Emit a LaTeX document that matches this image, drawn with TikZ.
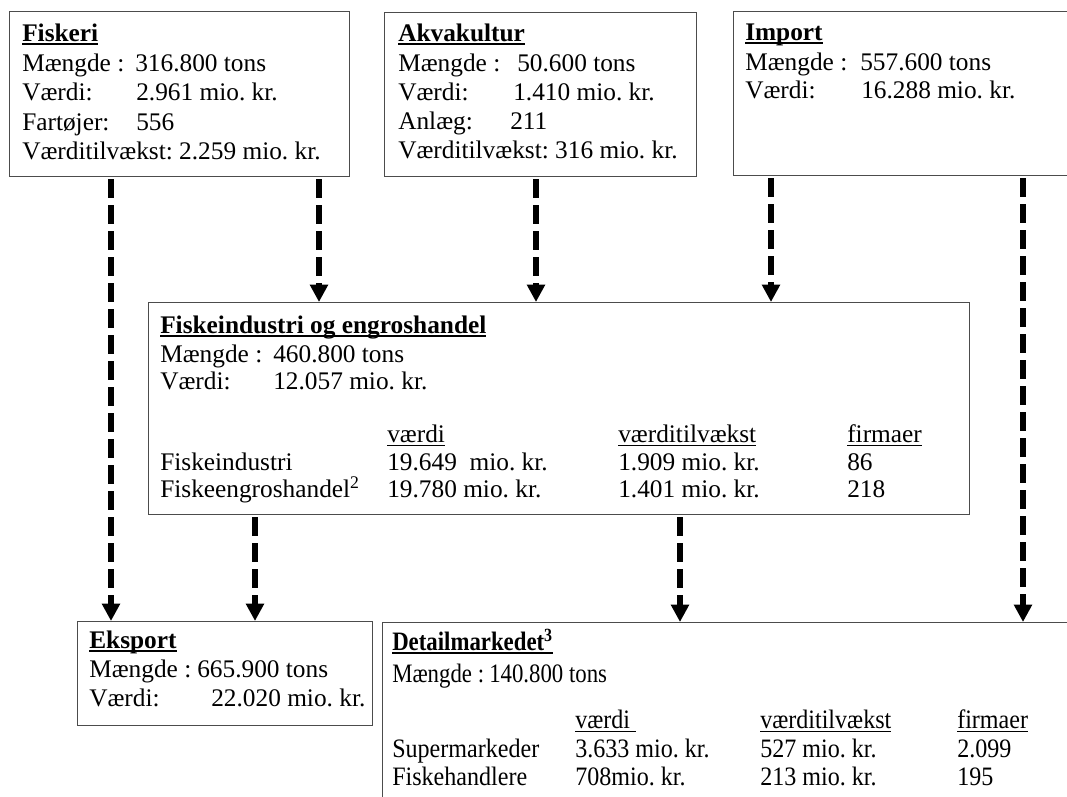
\documentclass[tikz,border=0pt]{standalone}
\usepackage{fontspec}
\usepackage{graphicx}
\setmainfont{Liberation Serif}
\usetikzlibrary{arrows.meta}
\frenchspacing
\newcommand\ulb[1]{\setbox0\hbox{#1}\rlap{\rule[-3.2pt]{\wd0}{1.7pt}}\box0}
\newcommand\ulr[1]{\setbox0\hbox{#1}\rlap{\rule[-3pt]{\wd0}{1pt}}\box0}
\newcommand\dsc[1]{\scalebox{0.95}[1.05]{#1}}
\newcommand\dsm[1]{\scalebox{0.9}[1.05]{#1}}
\begin{document}
\begin{tikzpicture}[x=0.75pt,y=-0.75pt,
  box/.style={draw=black!70, line width=0.8pt, anchor=north west, inner sep=0pt},
  txt/.style={anchor=base west, inner sep=0pt, font=\fontsize{19}{22}\selectfont},
  flow/.style={line width=4pt, dash pattern=on 14pt off 5.5pt, shorten <=1.5pt,
    -{Triangle[width=13pt,length=13pt]}}]
\useasboundingbox (0,0) rectangle (1067,796);
\clip (0,0) rectangle (1067,796);
% boxes
\node[box, minimum width=340*0.75pt, minimum height=165*0.75pt] (fiskeri) at (9,11) {};
\node[box, minimum width=312*0.75pt, minimum height=164*0.75pt] (akva) at (384,12) {};
\node[box, minimum width=350*0.75pt, minimum height=164*0.75pt] (import) at (733,11) {};
\node[box, minimum width=821*0.75pt, minimum height=212*0.75pt] (fiskind) at (148,302) {};
\node[box, minimum width=295*0.75pt, minimum height=104*0.75pt] (eksport) at (77,621) {};
\node[box, minimum width=720*0.75pt, minimum height=200*0.75pt] (detail) at (382,622) {};
% Fiskeri
\node[txt] (f0) at (22,41) {\textbf{\ulb{Fiskeri}}};
\node[txt] (f1) at (22,71) {Mængde :};
\node[txt] (f1v) at (135,71) {316.800 tons};
\node[txt] (f2) at (22,100) {Værdi:};
\node[txt] (f2v) at (136,100) {2.961 mio. kr.};
\node[txt] (f3) at (22,130) {Fartøjer:};
\node[txt] (f3v) at (136,130) {556};
\node[txt] (f4) at (22,159) {Værditilvækst: 2.259 mio. kr.};
% Akvakultur
\node[txt] (a0) at (398,41) {\textbf{\ulb{Akvakultur}}};
\node[txt] (a1) at (398,71) {Mængde :};
\node[txt] (a1v) at (517,71) {50.600 tons};
\node[txt] (a2) at (398,100) {Værdi:};
\node[txt] (a2v) at (513,100) {1.410 mio. kr.};
\node[txt] (a3) at (398,129) {Anlæg:};
\node[txt] (a3v) at (510,129) {211};
\node[txt] (a4) at (398,158) {Værditilvækst: 316 mio. kr.};
% Import
\node[txt] (i0) at (745,40) {\textbf{\ulb{Import}}};
\node[txt] (i1) at (745,70) {Mængde :};
\node[txt] (i1v) at (860,70) {557.600 tons};
\node[txt] (i2) at (745,98) {Værdi:};
\node[txt] (i2v) at (861,98) {16.288 mio. kr.};
% Fiskeindustri og engroshandel
\node[txt] (k0) at (160,333) {\textbf{\ulb{Fiskeindustri og engroshandel}}};
\node[txt] (k1) at (160,362) {Mængde :};
\node[txt] (k1v) at (273,362) {460.800 tons};
\node[txt] (k2) at (160,389) {Værdi:};
\node[txt] (k2v) at (273,389) {12.057 mio. kr.};
\node[txt] (kh1) at (387,442) {\ulr{værdi}};
\node[txt] (kh2) at (618,442) {\ulr{værditilvækst}};
\node[txt] (kh3) at (847,442) {\ulr{firmaer}};
\node[txt] (kr1) at (160,470) {Fiskeindustri};
\node[txt] (kr1a) at (387,470) {19.649\ \ mio. kr.};
\node[txt] (kr1b) at (618,470) {1.909 mio. kr.};
\node[txt] (kr1c) at (847,470) {86};
\node[txt] (kr2) at (160,497) {Fiskeengroshandel\textsuperscript{2}};
\node[txt] (kr2a) at (387,497) {19.780 mio. kr.};
\node[txt] (kr2b) at (618,497) {1.401 mio. kr.};
\node[txt] (kr2c) at (847,497) {218};
% Eksport
\node[txt] (e0) at (89,648) {\textbf{\ulb{Eksport}}};
\node[txt] (e1) at (89,677) {Mængde :};
\node[txt] (e1v) at (197,677) {665.900 tons};
\node[txt] (e2) at (89,706) {Værdi:};
\node[txt] (e2v) at (211,706) {22.020 mio. kr.};
% Detailmarkedet
\node[txt] (d0) at (392,650) {\dsm{\textbf{\ulb{Detailmarkedet\textsuperscript{3}}}}};
\node[txt] (d1) at (392,682) {\dsm{Mængde :}};
\node[txt] (d1v) at (489,682) {\dsm{140.800 tons}};
\node[txt] (dh1) at (575,728) {\dsc{\ulr{værdi\ }}};
\node[txt] (dh2) at (760,728) {\dsc{\ulr{værditilvækst}}};
\node[txt] (dh3) at (957,728) {\dsc{\ulr{firmaer}}};
\node[txt] (dr1) at (392,757) {\dsc{Supermarkeder}};
\node[txt] (dr1a) at (575,757) {\dsc{3.633 mio. kr.}};
\node[txt] (dr1b) at (760,757) {\dsc{527 mio. kr.}};
\node[txt] (dr1c) at (957,757) {\dsc{2.099}};
\node[txt] (dr2) at (392,785) {\dsc{Fiskehandlere}};
\node[txt] (dr2a) at (575,785) {\dsc{708mio. kr.}};
\node[txt] (dr2b) at (760,785) {\dsc{213 mio. kr.}};
\node[txt] (dr2c) at (957,785) {\dsc{195}};
% arrows
\coordinate (s1) at (fiskeri.south -| 111,0);
\coordinate (s2) at (fiskeri.south -| 319,0);
\coordinate (s3) at (akva.south -| 536,0);
\coordinate (s4) at (import.south -| 771,0);
\coordinate (s5) at (import.south -| 1023,0);
\coordinate (s6) at (fiskind.south -| 255,0);
\coordinate (s7) at (fiskind.south -| 680,0);
\draw[flow] (s1) -- (s1 |- eksport.north);
\draw[flow] (s2) -- (s2 |- fiskind.north);
\draw[flow] (s3) -- (s3 |- fiskind.north);
\draw[flow] (s4) -- (s4 |- fiskind.north);
\draw[flow] (s5) -- (s5 |- detail.north);
\draw[flow] (s6) -- (s6 |- eksport.north);
\draw[flow] (s7) -- (s7 |- detail.north);
\end{tikzpicture}
\end{document}
